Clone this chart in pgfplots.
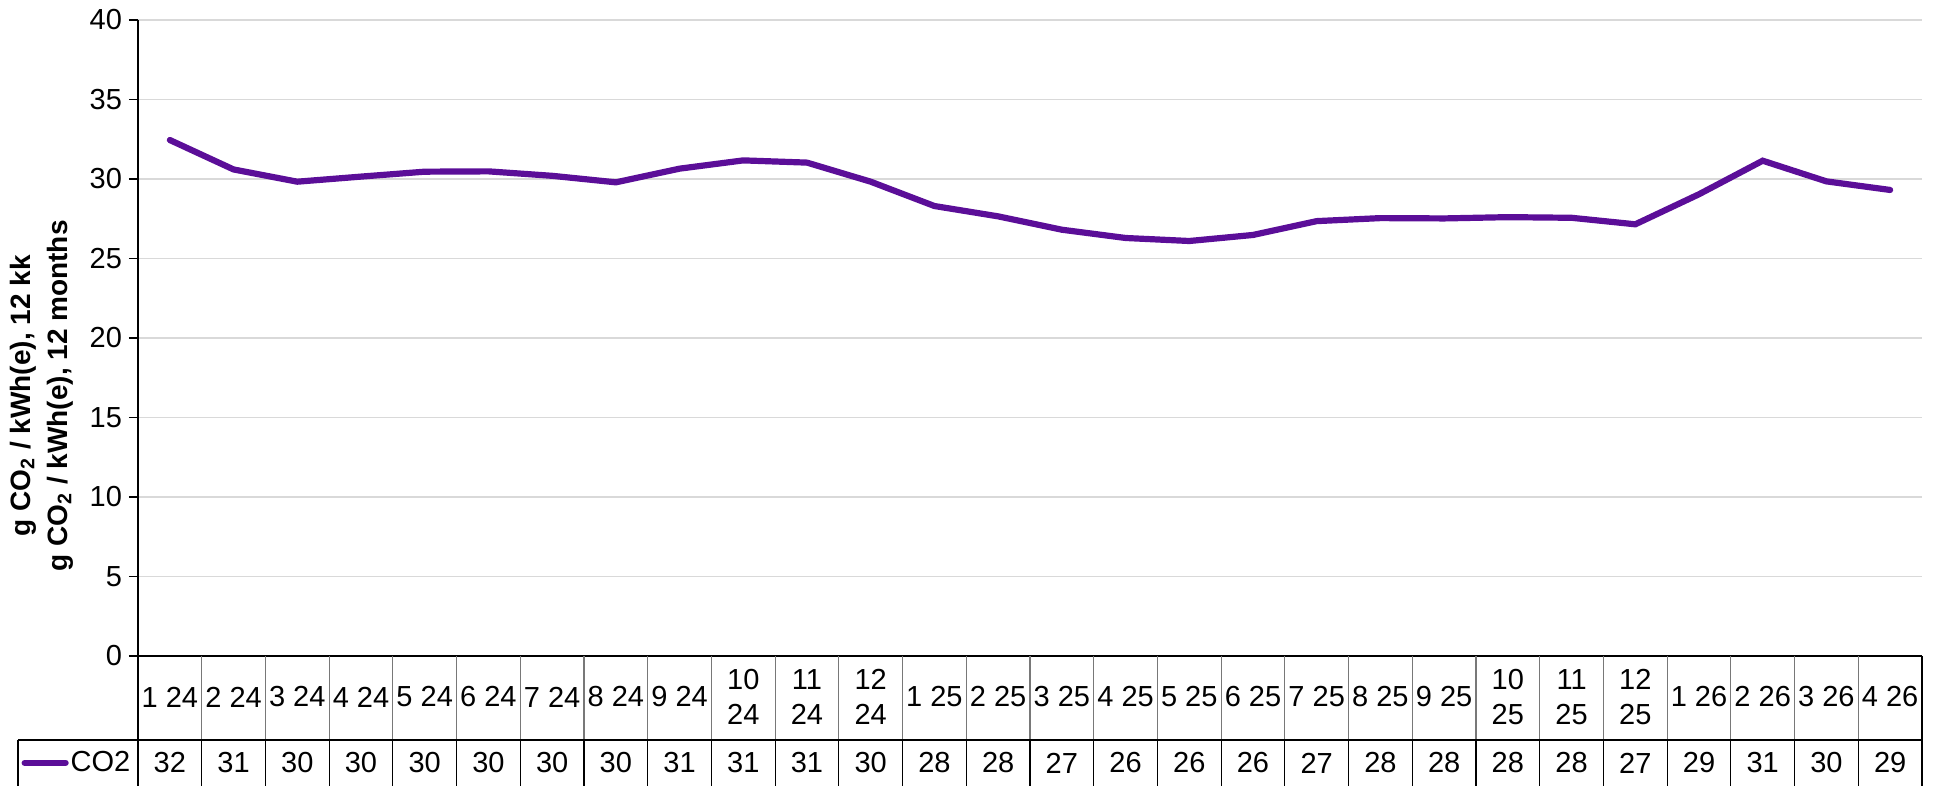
\documentclass[border=0pt]{standalone}
\usepackage{pgfplots}
\pgfplotsset{compat=1.18}
\usepackage{pgfplotstable}
\usepackage{fontspec}
\setmainfont{Liberation Sans}
\definecolor{co2}{RGB}{91,14,152}
\definecolor{gridc}{RGB}{217,217,217}
\definecolor{tabgray}{RGB}{120,120,120}

\pgfplotstableread{
x co2
0 32.45
1 30.60
2 29.83
3 30.15
4 30.46
5 30.48
6 30.20
7 29.79
8 30.65
9 31.17
10 31.03
11 29.83
12 28.30
13 27.65
14 26.81
15 26.29
16 26.10
17 26.48
18 27.35
19 27.54
20 27.52
21 27.60
22 27.56
23 27.15
24 29.04
25 31.15
26 29.85
27 29.31
}\datatable

\newcommand{\tabfont}{\fontsize{14.5}{17.5}\selectfont}

\begin{document}
\begin{tikzpicture}
\path[use as bounding box] (-69pt,-65pt) rectangle (898pt,328pt);
\begin{axis}[
  scale only axis, width=892pt, height=318pt,
  at={(0,0)}, anchor=south west,
  xmin=-0.5, xmax=27.5, ymin=0, ymax=40,
  axis x line*=bottom, axis y line*=left,
  axis line style={black, line width=0.6pt},
  ytick={0,5,...,40},
  xtick={0,...,27},
  xticklabels={1 24,2 24,3 24,4 24,5 24,6 24,7 24,8 24,9 24,{10\\24},{11\\24},{12\\24},1 25,2 25,3 25,4 25,5 25,6 25,7 25,8 25,9 25,{10\\25},{11\\25},{12\\25},1 26,2 26,3 26,4 26},
  ymajorgrids, grid style={gridc, line width=0.75pt},
  tick align=outside, major tick length=4.5pt,
  ytick style={black, line width=0.6pt},
  xtick style={draw=none},
  yticklabel style={font=\tabfont},
  xticklabel style={font=\tabfont, align=center, anchor=center, yshift=-16pt},
  /pgf/number format/assume math mode=true,
  clip=false,
  ylabel={g CO\textsubscript{2} / kWh(e), 12 kk\\g CO\textsubscript{2} / kWh(e), 12 months},
  ylabel style={at={(axis description cs:-0.0541,0.409)}, anchor=center, align=center, font=\fontsize{14}{18.5}\selectfont\bfseries},
  legend style={at={(axis description cs:-0.0655,-0.168)}, anchor=west, draw=none, fill=none, font=\tabfont, inner sep=0pt, nodes={inner sep=1pt}},
  legend cell align=left,
  legend image code/.code={\draw[#1] (0pt,0pt) -- (20.5pt,0pt);},
]
\addplot[co2, line width=3.1pt, line cap=round] table[x=x, y=co2] {\datatable};
\addlegendentry{CO2}
\addplot[draw=none, mark=none, forget plot, point meta=explicit,
  nodes near coords={\pgfmathprintnumber[fixed,precision=0]{\pgfplotspointmeta}},
  nodes near coords style={anchor=center, font=\tabfont, text=black}]
  table[x=x, y expr=-6.73, meta=co2] {\datatable};
\pgfplotsinvokeforeach{1,...,27}{
  \draw[tabgray, line width=0.6pt] (axis cs:#1-0.5,0) -- (axis cs:#1-0.5,-5.283);
  \draw[black, line width=0.6pt] (axis cs:#1-0.5,-5.283) -- (axis cs:#1-0.5,-8.3);
}
\draw[black, line width=0.6pt] (axis cs:-0.5,0) -- (axis cs:-0.5,-8.3);
\draw[black, line width=0.6pt] (axis cs:27.5,0) -- (axis cs:27.5,-8.3);
\draw[black, line width=0.6pt] (axis cs:-2.384,-5.283) -- (axis cs:27.5,-5.283);
\draw[black, line width=0.6pt] (axis cs:-2.384,-5.283) -- (axis cs:-2.384,-8.3);
\end{axis}
\end{tikzpicture}
\end{document}
